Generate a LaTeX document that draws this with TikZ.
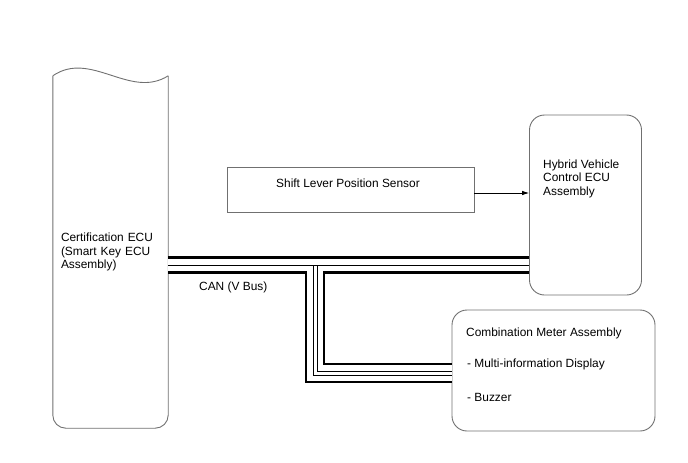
\documentclass[tikz,border=0pt]{standalone}
\usepackage{fontspec}
\setmainfont{Liberation Sans}
\usetikzlibrary{arrows.meta, positioning, calc}
\definecolor{BoxGray}{RGB}{112,112,112}

\begin{document}
\begin{tikzpicture}[x=1pt, y=-1pt,
    font=\fontsize{11.9}{13.5}\selectfont,
    outline/.style={draw=BoxGray, line width=0.9pt},
    unit/.style={outline, rounded corners=15pt, inner sep=0pt},
    sensorbox/.style={outline, inner sep=0pt},
    txt/.style={inner sep=0pt, align=left},
    busline/.style={line width=2.7pt, line join=miter, double=white},
    buswire/.style={line width=0.9pt},
    arr/.style={-{Latex[length=7pt,width=4.5pt]}, line width=0.7pt}
  ]
  \useasboundingbox (0,0) rectangle (688,463);

  % units
  \node[inner sep=0pt, inner xsep=8pt, minimum height=352pt, text width=99pt,
        align=left] (cert) at (110.5,252) {Certification ECU\\(Smart Key ECU\\Assembly)};
  \draw[outline] (cert.north west) .. controls +(38,-26) and +(-38,24) .. (cert.north east);
  \draw[outline, rounded corners=13pt] (cert.north west) -- (cert.south west)
    -- (cert.south east) -- (cert.north east);

  \node[unit, minimum width=112pt, minimum height=180pt] (hv) at (585.5,205) {};
  \node[txt, anchor=west] (hvtxt) at (543,178.5) {Hybrid Vehicle\\Control ECU\\Assembly};

  \node[sensorbox, minimum width=247pt, minimum height=45pt] (sensor) at (350.5,189.5) {};
  \node[txt, anchor=base west] (sensortxt) at (276,187) {Shift Lever Position Sensor};

  \node[unit, minimum width=203pt, minimum height=121pt] (meter) at (553.5,370.5) {};
  \node[txt, anchor=base west] (metertxt) at (466,336) {Combination Meter Assembly};
  \node[txt, anchor=base west] (mid) at (467,367.7) {- Multi-information Display};
  \node[txt, anchor=base west] (buzzer) at (467,401.7) {- Buzzer};

  % signal
  \coordinate (arrs) at ([yshift=-3.5pt]sensor.east);
  \draw[arr] (arrs) -- (arrs -| hv.west);

  % CAN bus
  \coordinate (busW) at (cert.east |- 0,265);
  \coordinate (busE) at (hv.west |- 0,265);
  \coordinate (tap) at (315,265);
  \coordinate (drop) at (315,373);
  \coordinate (busS) at (meter.west |- drop);

  \draw[busline, double distance=12pt] (busW) -- (busE);
  \draw[buswire] (busW) -- (busE);
  \draw[busline, double distance=15.5pt] ([yshift=-6pt]tap) |- (busS);
  \draw[buswire] ([xshift=-2pt]tap) |- ([yshift=-2pt]busS);
  \draw[buswire] ([xshift=2pt]tap) |- ([yshift=2pt]busS);
  \node[txt, anchor=base west] (canlbl) at (199,290) {CAN (V Bus)};
\end{tikzpicture}
\end{document}
